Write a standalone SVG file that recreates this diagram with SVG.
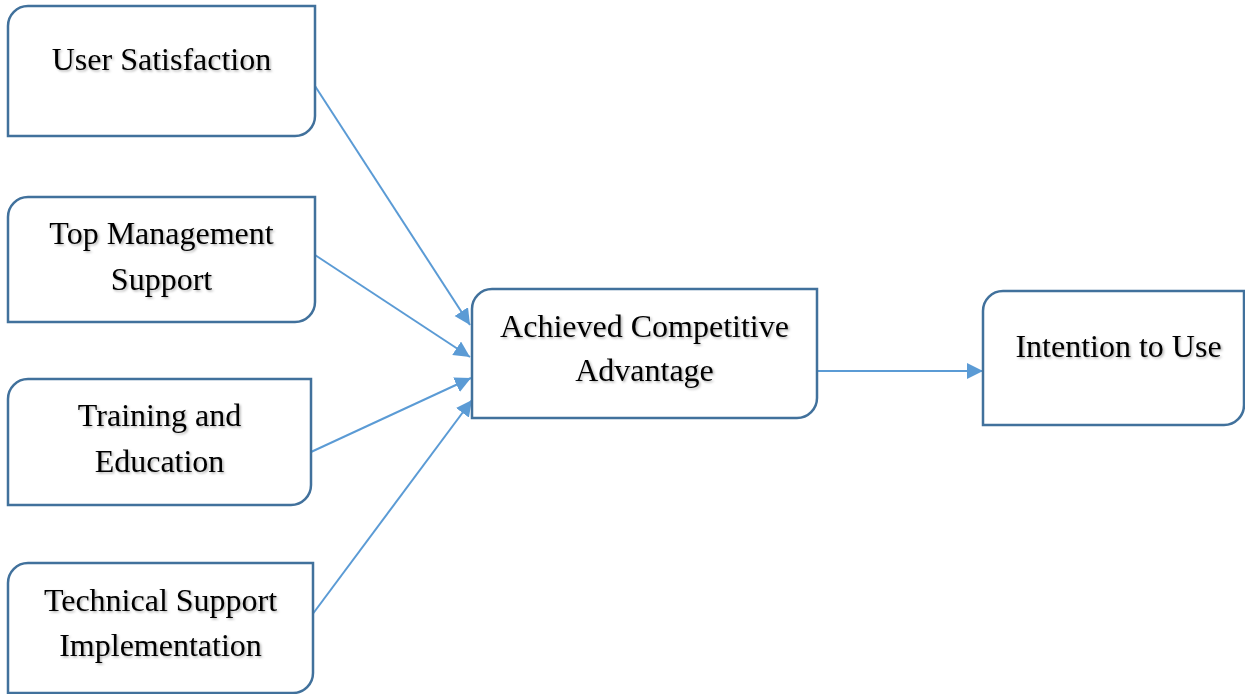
<svg xmlns="http://www.w3.org/2000/svg" width="1245" height="694" viewBox="0 0 1245 694">
<style>
.box{fill:#ffffff;stroke:#41719C;stroke-width:2.5}
.lbl{font-family:"Liberation Serif","Times New Roman",serif;font-size:32px;fill:#000;text-anchor:middle}
.conn{stroke:#5B9BD5;stroke-width:2;fill:none}
</style>
<defs>
<marker id="arr" markerUnits="userSpaceOnUse" markerWidth="18" markerHeight="18" refX="16" refY="8" orient="auto">
<path d="M0,0 L16,8 L0,16 Z" fill="#5B9BD5"/>
</marker>
<filter id="sh" x="-10%" y="-20%" width="120%" height="150%">
<feDropShadow dx="1.5" dy="1.5" stdDeviation="1.2" flood-color="#000" flood-opacity="0.3"/>
</filter>
</defs>
<rect width="1245" height="694" fill="#ffffff"/>
<g id="connectors">
<line class="conn" x1="315" y1="86" x2="470" y2="325" marker-end="url(#arr)"/>
<line class="conn" x1="315" y1="255" x2="470" y2="357" marker-end="url(#arr)"/>
<line class="conn" x1="311" y1="452" x2="471" y2="378" marker-end="url(#arr)"/>
<line class="conn" x1="312" y1="615" x2="472" y2="400" marker-end="url(#arr)"/>
<line class="conn" x1="817" y1="371" x2="983" y2="371" marker-end="url(#arr)"/>
</g>
<g id="user-satisfaction">
<path class="box" d="M28,6 H315 V116 A20,20 0 0 1 295,136 H8 V26 A20,20 0 0 1 28,6 Z"/>
<text class="lbl" filter="url(#sh)" x="161.5" y="70">User Satisfaction</text>
</g>
<g id="top-management-support">
<path class="box" d="M28,197 H315 V302 A20,20 0 0 1 295,322 H8 V217 A20,20 0 0 1 28,197 Z"/>
<text class="lbl" filter="url(#sh)" x="161.5" y="244">Top Management</text>
<text class="lbl" filter="url(#sh)" x="161.5" y="290">Support</text>
</g>
<g id="training-education">
<path class="box" d="M28,379 H311 V485 A20,20 0 0 1 291,505 H8 V399 A20,20 0 0 1 28,379 Z"/>
<text class="lbl" filter="url(#sh)" x="159.5" y="426">Training and</text>
<text class="lbl" filter="url(#sh)" x="159.5" y="472">Education</text>
</g>
<g id="technical-support">
<path class="box" d="M28,563 H313 V673 A20,20 0 0 1 293,693 H8 V583 A20,20 0 0 1 28,563 Z"/>
<text class="lbl" filter="url(#sh)" x="160.5" y="611">Technical Support</text>
<text class="lbl" filter="url(#sh)" x="160.5" y="656">Implementation</text>
</g>
<g id="achieved-competitive-advantage">
<path class="box" d="M492,289 H817 V398 A20,20 0 0 1 797,418 H472 V309 A20,20 0 0 1 492,289 Z"/>
<text class="lbl" filter="url(#sh)" x="644.5" y="337">Achieved Competitive</text>
<text class="lbl" filter="url(#sh)" x="644.5" y="381">Advantage</text>
</g>
<g id="intention-to-use">
<path class="box" d="M1003,291 H1244 V405 A20,20 0 0 1 1224,425 H983 V311 A20,20 0 0 1 1003,291 Z"/>
<text class="lbl" filter="url(#sh)" x="1118.5" y="357">Intention to Use</text>
</g>
</svg>
